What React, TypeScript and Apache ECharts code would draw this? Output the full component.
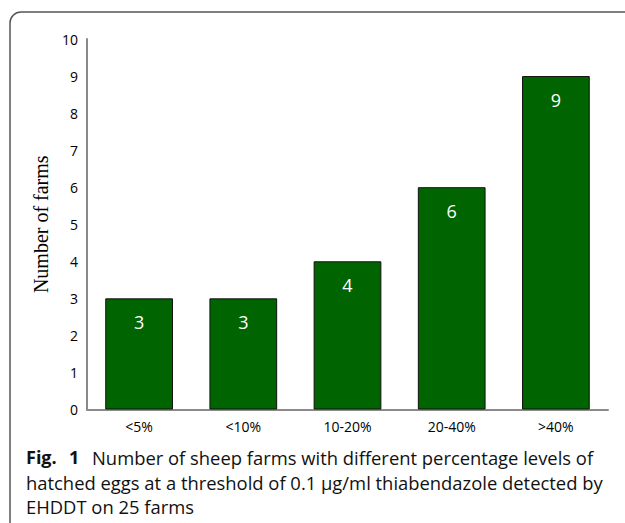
import React, { useEffect, useRef } from "react";
import * as echarts from "echarts";

const categories = ["<5%", "<10%", "10-20%", "20-40%", ">40%"];
const farmCounts = [3, 3, 4, 6, 9];
const yTicks = { min: 0, max: 10, interval: 1 };
const yAxisTitle = "Number of farms";
const captionLabel = ["Fig.", "1"];
const captionLines = [
  "Number of sheep farms with different percentage levels of",
  "hatched eggs at a threshold of 0.1 µg/ml thiabendazole detected by",
  "EHDDT on 25 farms",
];

export default function App() {
  const ref = useRef<HTMLDivElement>(null);
  useEffect(() => {
    if (!ref.current) return;
    const chart = echarts.init(ref.current, undefined, { renderer: "svg" });
    const sans = "'Open Sans', 'Noto Sans', sans-serif";
    const capStyle = (text: string, bold = false) => ({
      text,
      fontFamily: sans,
      fontSize: bold ? 18 : 18.4,
      fontWeight: bold ? "bold" : "normal",
      fill: "#111",
      verticalAlign: "middle",
    });
    chart.setOption({
      animation: false,
      backgroundColor: "#ffffff",
      grid: { left: 87, right: 17, top: 39, bottom: 113.5, containLabel: false },
      xAxis: {
        type: "category",
        data: categories,
        axisLine: { show: true, lineStyle: { color: "#8a8a8a", width: 2 } },
        axisTick: { show: false },
        axisLabel: { color: "#000", fontFamily: sans, fontSize: 14, margin: 10 },
      },
      yAxis: {
        type: "value",
        min: yTicks.min,
        max: yTicks.max,
        interval: yTicks.interval,
        name: yAxisTitle,
        nameLocation: "middle",
        nameGap: 29,
        nameTextStyle: { fontFamily: "'Liberation Serif', 'Times New Roman', serif", fontSize: 20, color: "#000" },
        axisLine: { show: true, lineStyle: { color: "#8a8a8a", width: 2 } },
        axisTick: { show: false },
        splitLine: { show: false },
        axisLabel: { color: "#000", fontFamily: sans, fontSize: 14, margin: 9 },
      },
      series: [
        {
          type: "bar",
          data: farmCounts,
          barCategoryGap: "35%",
          itemStyle: { color: "#006400", borderColor: "#111", borderWidth: 1 },
          label: {
            show: true,
            position: "insideTop",
            distance: 15,
            color: "#fff",
            fontFamily: sans,
            fontSize: 18,
          },
        },
      ],
      graphic: [
        {
          type: "rect",
          shape: { x: 10, y: 12, width: 700, height: 600, r: [11, 0, 0, 0] },
          style: { fill: "none", stroke: "#555", lineWidth: 1.5 },
          silent: true,
        },
        { type: "text", x: 26, y: 457, style: capStyle(captionLabel[0], true) },
        { type: "text", x: 69, y: 457, style: capStyle(captionLabel[1], true) },
        { type: "text", x: 92, y: 457, style: capStyle(captionLines[0]) },
        { type: "text", x: 26, y: 482, style: capStyle(captionLines[1]) },
        { type: "text", x: 26, y: 506, style: capStyle(captionLines[2]) },
      ],
    });
    return () => chart.dispose();
  }, []);
  return (
    <div style={{ position: "fixed", left: 0, top: 0, width: 625, height: 523 }}>
      <div ref={ref} style={{ width: 625, height: 523 }} />
    </div>
  );
}
